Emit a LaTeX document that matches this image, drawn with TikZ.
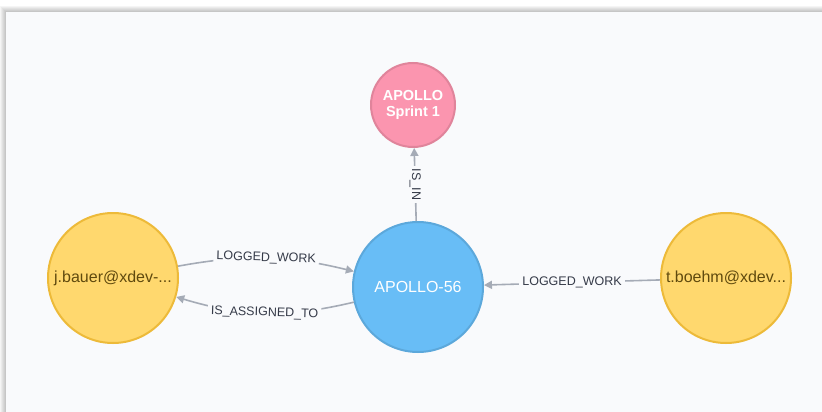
\documentclass[tikz,border=0pt]{standalone}
\usepackage{fontspec}
\setmainfont{Liberation Sans}
\usetikzlibrary{arrows.meta}
\definecolor{panelbg}{HTML}{F9FAFC}
\definecolor{pinkfill}{HTML}{FB95AF}
\definecolor{pinkline}{HTML}{E0849B}
\definecolor{bluefill}{HTML}{68BDF6}
\definecolor{blueline}{HTML}{5CA8DB}
\definecolor{yelfill}{HTML}{FFD86E}
\definecolor{yelline}{HTML}{EDBA39}
\definecolor{yeltext}{HTML}{604A0E}
\definecolor{edgegray}{HTML}{A5ABB6}
\definecolor{labtext}{HTML}{353A48}
\tikzset{
  graphnode/.style={circle, inner sep=0pt, line width=2pt, align=center},
  bignode/.style={graphnode, minimum size=130pt, font=\fontsize{16}{18}\selectfont},
  edge/.style={draw=edgegray, line width=1.6pt, -{Triangle[length=8pt,width=8pt]}},
  lab/.style={fill=panelbg, inner sep=3pt, text=labtext, font=\fontsize{12.5}{14}\selectfont}
}
\begin{document}
\begin{tikzpicture}[x=1pt,y=-1pt]
\useasboundingbox (0,0) rectangle (822,412);
\fill[white] (0,0) rectangle (822,412);
\foreach \i in {1,...,6} {
  \fill[black, opacity=0.04] (6-\i,12-\i) rectangle (830,420);
}
\fill[panelbg] (6,12) rectangle (830,420);

\node[graphnode, minimum size=84pt, fill=pinkfill, draw=pinkline, text=white,
      font=\fontsize{14.5}{16}\selectfont\bfseries] (sp) at (413,105) {APOLLO\\Sprint 1};
\node[bignode, fill=bluefill, draw=blueline, text=white] (ap) at (418,287) {APOLLO-56};
\node[bignode, fill=yelfill, draw=yelline, text=yeltext] (jb) at (113,278) {j.bauer@xdev-...};
\node[bignode, fill=yelfill, draw=yelline, text=yeltext] (tb) at (726,278) {t.boehm@xdev...};

\draw[edge] (ap) -- node[lab, rotate=-90, pos=0.5] {IS\_IN} (sp);
\draw[edge] (jb) to[bend left=12] node[lab, sloped] {LOGGED\_WORK} (ap);
\draw[edge] (ap) to[bend left=15] node[lab, sloped] {IS\_ASSIGNED\_TO} (jb);
\draw[edge] (tb) -- node[lab] {LOGGED\_WORK} (ap);
\end{tikzpicture}
\end{document}
